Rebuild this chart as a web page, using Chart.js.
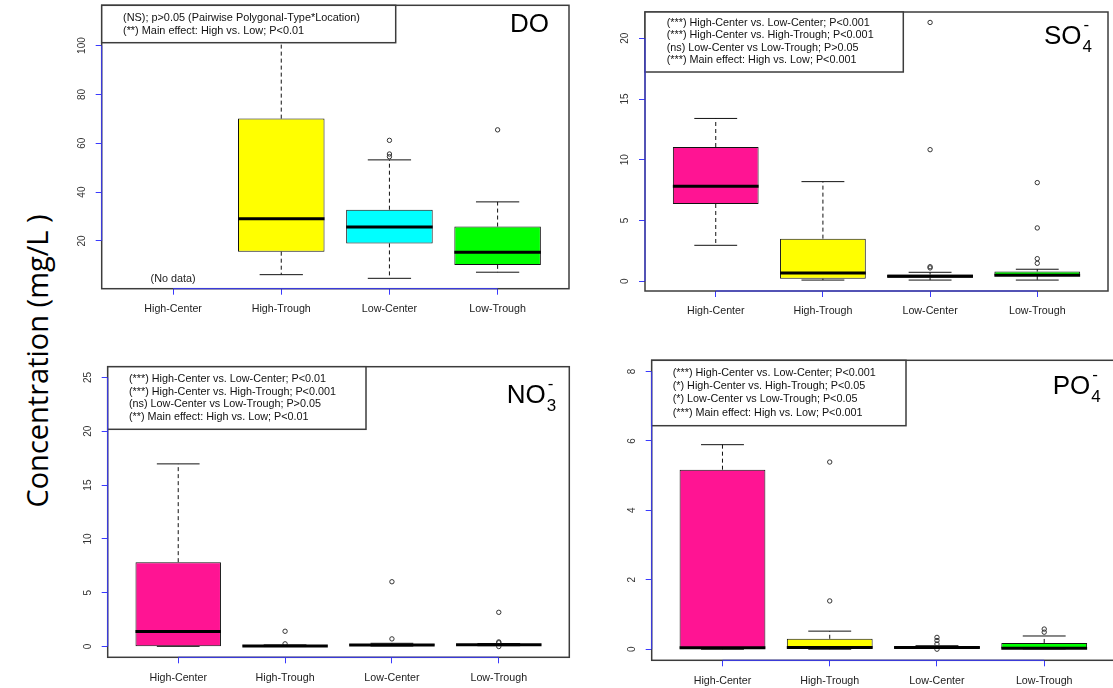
<!DOCTYPE html>
<html>
<head>
<meta charset="utf-8">
<script src="https://cdn.jsdelivr.net/npm/chart.js@4.4.1/dist/chart.umd.min.js"></script>
<style>
    html, body { margin: 0; padding: 0; background: #fff; }
    body { width: 1113px; height: 688px; position: relative; overflow: hidden; }
    canvas { position: absolute; }
    #ylabel {
        position: absolute;
        left: 36px;
        top: 361px;
        transform: translate(-50%, -50%) rotate(-90deg);
        font-family: "Open Sans", sans-serif;
        font-size: 29px;
        white-space: nowrap;
        color: #000;
    }
</style>
</head>
<body>
<div id="ylabel">Concentration (mg/L )</div>
<canvas id="doChart"></canvas>
<canvas id="so4Chart"></canvas>
<canvas id="no3Chart"></canvas>
<canvas id="po4Chart"></canvas>

<script>
const categories = ["High-Center", "High-Trough", "Low-Center", "Low-Trough"];
const boxColors = ["#FF1493", "#FFFF00", "#00FFFF", "#00FF00"];

// Dissolved oxygen (no High-Center samples)
const doLower = [null, 6.2, 4.7, 7.2];
const doQ1 = [null, 15.6, 19.0, 10.2];
const doMedian = [null, 29.1, 25.7, 15.4];
const doQ3 = [null, 70.1, 32.8, 25.9];
const doUpper = [null, 112.2, 53.2, 36.0];
const doOutliers = [[], [], [61.2, 55.6, 54.5], [65.5]];
const doTicks = [20, 40, 60, 80, 100];
const doNotes = [
    "(NS); p>0.05 (Pairwise Polygonal-Type*Location)",
    "(**) Main effect: High vs. Low; P<0.01"
];

// Sulfate
const so4Lower = [2.96, 0.1, 0.1, 0.1];
const so4Q1 = [6.36, 0.21, 0.3, 0.45];
const so4Median = [7.82, 0.68, 0.42, 0.5];
const so4Q3 = [11.05, 3.51, 0.55, 0.8];
const so4Upper = [13.4, 8.2, 0.74, 0.99];
const so4Outliers = [[], [], [21.3, 10.83, 1.2, 1.1], [8.12, 4.39, 1.86, 1.48]];
const so4Ticks = [0, 5, 10, 15, 20];
const so4Notes = [
    "(***) High-Center vs. Low-Center; P<0.001",
    "(***) High-Center vs. High-Trough; P<0.001",
    "(ns) Low-Center vs Low-Trough; P>0.05",
    "(***) Main effect: High vs. Low; P<0.001"
];

// Nitrate
const no3Lower = [0.02, 0.0, 0.05, 0.08];
const no3Q1 = [0.03, 0.02, 0.1, 0.12];
const no3Median = [1.39, 0.05, 0.15, 0.16];
const no3Q3 = [7.84, 0.1, 0.22, 0.2];
const no3Upper = [16.97, 0.15, 0.3, 0.28];
const no3Outliers = [[], [1.42, 0.25], [6.02, 0.71], [3.18, 0.43, 0.35, 0.0]];
const no3Ticks = [0, 5, 10, 15, 20, 25];
const no3Notes = [
    "(***) High-Center vs. Low-Center; P<0.01",
    "(***) High-Center vs. High-Trough; P<0.001",
    "(ns) Low-Center vs Low-Trough; P>0.05",
    "(**) Main effect: High vs. Low; P<0.01"
];

// Phosphate
const po4Lower = [0.0, 0.0, 0.02, 0.01];
const po4Q1 = [0.01, 0.01, 0.03, 0.02];
const po4Median = [0.04, 0.05, 0.05, 0.03];
const po4Q3 = [5.17, 0.3, 0.08, 0.18];
const po4Upper = [5.89, 0.52, 0.1, 0.38];
const po4Outliers = [[], [5.39, 1.39], [0.34, 0.25, 0.15, 0.0], [0.58, 0.49]];
const po4Ticks = [0, 2, 4, 6, 8];
const po4Notes = [
    "(***) High-Center vs. Low-Center; P<0.001",
    "(*) High-Center vs. High-Trough; P<0.05",
    "(*) Low-Center vs Low-Trough; P<0.05",
    "(***) Main effect: High vs. Low; P<0.001"
];

const FONT = '"Liberation Sans", Arial, sans-serif';
const AXIS_BLUE = "#3a3aff";

// draws whiskers, medians, frame, notes box, title and the R-style axis lines
const boxplotExtras = {
    id: "boxplotExtras",
    beforeDatasetsDraw(chart) {
        const p = chart.options.plugins.boxplotExtras;
        const ctx = chart.ctx;
        const y = chart.scales.y;
        const meta = chart.getDatasetMeta(0);
        ctx.save();
        ctx.strokeStyle = "#111";
        ctx.lineWidth = 1;
        meta.data.forEach((bar, j) => {
            const i = chart.data.datasets[0].data[j].x - 1;
            const cx = bar.x;
            const half = bar.width / 4;
            const lo = y.getPixelForValue(p.lower[i]);
            const q1 = y.getPixelForValue(p.q1[i]);
            const q3 = y.getPixelForValue(p.q3[i]);
            const hi = y.getPixelForValue(p.upper[i]);
            ctx.setLineDash([4, 3]);
            ctx.beginPath();
            ctx.moveTo(cx, q3); ctx.lineTo(cx, hi);
            ctx.moveTo(cx, q1); ctx.lineTo(cx, lo);
            ctx.stroke();
            ctx.setLineDash([]);
            ctx.beginPath();
            ctx.moveTo(cx - half, hi); ctx.lineTo(cx + half, hi);
            ctx.moveTo(cx - half, lo); ctx.lineTo(cx + half, lo);
            ctx.stroke();
        });
        ctx.restore();
    },
    afterDatasetsDraw(chart) {
        const p = chart.options.plugins.boxplotExtras;
        const ctx = chart.ctx;
        const y = chart.scales.y;
        const meta = chart.getDatasetMeta(0);
        ctx.save();
        ctx.strokeStyle = "#000";
        ctx.lineWidth = 3;
        meta.data.forEach((bar, j) => {
            const i = chart.data.datasets[0].data[j].x - 1;
            const m = y.getPixelForValue(p.median[i]);
            ctx.beginPath();
            ctx.moveTo(bar.x - bar.width / 2, m);
            ctx.lineTo(bar.x + bar.width / 2, m);
            ctx.stroke();
        });
        ctx.restore();
    },
    afterDraw(chart) {
        const p = chart.options.plugins.boxplotExtras;
        const ctx = chart.ctx;
        const a = chart.chartArea;
        const x = chart.scales.x;
        const y = chart.scales.y;
        ctx.save();

        // categories with no samples
        ctx.fillStyle = "#222";
        ctx.font = "10.8px " + FONT;
        ctx.textAlign = "center";
        ctx.textBaseline = "middle";
        p.q1.forEach((v, i) => {
            if (v === null) ctx.fillText("(No data)", x.getPixelForValue(i + 1), a.bottom - 10);
        });

        // plot frame
        ctx.strokeStyle = "#3c3c3c";
        ctx.lineWidth = 1.5;
        ctx.strokeRect(a.left, a.top, a.right - a.left, a.bottom - a.top);

        // notes box
        const n = p.notes;
        ctx.fillStyle = "#fff";
        ctx.fillRect(a.left, a.top, n.width, n.height);
        ctx.strokeRect(a.left, a.top, n.width, n.height);
        ctx.fillStyle = "#111";
        ctx.font = n.fontSize + "px " + FONT;
        ctx.textAlign = "left";
        n.lines.forEach((t, k) => {
            ctx.fillText(t, a.left + n.indent, a.top + n.first + k * n.step);
        });

        // panel title with optional sub/superscript
        const t = p.title;
        ctx.fillStyle = "#000";
        ctx.textBaseline = "alphabetic";
        ctx.font = "26px " + FONT;
        const tx = a.right + t.dx;
        const ty = a.top + t.dy;
        ctx.fillText(t.text, tx, ty);
        if (t.sub) {
            const w = ctx.measureText(t.text).width;
            ctx.font = "17px " + FONT;
            ctx.fillText(t.sub, tx + w + 1, ty + 8);
            ctx.fillText("-", tx + w + 2, ty - 14);
        }

        // blue axis lines spanning first to last tick
        ctx.strokeStyle = AXIS_BLUE;
        ctx.lineWidth = 1;
        const xt = x.ticks;
        ctx.beginPath();
        ctx.moveTo(x.getPixelForValue(xt[0].value), a.bottom);
        ctx.lineTo(x.getPixelForValue(xt[xt.length - 1].value), a.bottom);
        const yt = y.ticks;
        ctx.moveTo(a.left, y.getPixelForValue(yt[0].value));
        ctx.lineTo(a.left, y.getPixelForValue(yt[yt.length - 1].value));
        ctx.stroke();

        // rotated y tick labels
        ctx.fillStyle = "#333";
        ctx.font = "10px " + FONT;
        ctx.textAlign = "center";
        ctx.textBaseline = "middle";
        yt.forEach(tk => {
            ctx.save();
            ctx.translate(a.left - 19.5, y.getPixelForValue(tk.value));
            ctx.rotate(-Math.PI / 2);
            ctx.fillText(String(tk.value), 0, 0);
            ctx.restore();
        });
        ctx.restore();
    }
};

function makePanel(id, cfg) {
    const canvas = document.getElementById(id);
    canvas.width = cfg.box.w;
    canvas.height = cfg.box.h;
    canvas.style.left = cfg.box.left + "px";
    canvas.style.top = cfg.box.top + "px";

    const boxes = [];
    const colors = [];
    categories.forEach((c, i) => {
        if (cfg.q1[i] === null) return;
        boxes.push({ x: i + 1, y: [cfg.q1[i], cfg.q3[i]] });
        colors.push(boxColors[i]);
    });
    const points = [];
    cfg.outliers.forEach((list, i) => list.forEach(v => points.push({ x: i + 1, y: v })));

    const plot = cfg.plot;
    return new Chart(canvas, {
        type: "bar",
        data: {
            datasets: [
                {
                    type: "bar",
                    data: boxes,
                    backgroundColor: colors,
                    borderColor: "#111",
                    borderWidth: 1,
                    borderSkipped: false,
                    barPercentage: 0.8,
                    categoryPercentage: 1,
                    order: 2
                },
                {
                    type: "scatter",
                    data: points,
                    pointStyle: "circle",
                    pointRadius: 2.2,
                    pointBorderWidth: 1,
                    pointBorderColor: "#333",
                    pointBackgroundColor: "rgba(0,0,0,0)",
                    order: 1
                }
            ]
        },
        plugins: [boxplotExtras],
        options: {
            responsive: false,
            animation: false,
            events: [],
            layout: {
                padding: {
                    left: 0,
                    top: plot.top - cfg.box.top,
                    right: cfg.box.left + cfg.box.w - plot.right,
                    bottom: 0
                }
            },
            plugins: {
                legend: { display: false },
                tooltip: { enabled: false },
                boxplotExtras: {
                    lower: cfg.lower, q1: cfg.q1, median: cfg.median, q3: cfg.q3, upper: cfg.upper,
                    notes: cfg.notes, title: cfg.title
                }
            },
            scales: {
                x: {
                    type: "linear",
                    min: 0.34,
                    max: 4.66,
                    offset: false,
                    afterBuildTicks: s => { s.ticks = categories.map((c, i) => ({ value: i + 1 })); },
                    afterFit: s => { s.height = cfg.box.top + cfg.box.h - plot.bottom; },
                    ticks: {
                        autoSkip: false,
                        maxRotation: 0,
                        padding: 8,
                        color: "#222",
                        font: { family: FONT, size: 10.7 },
                        callback: v => categories[Math.round(v) - 1]
                    },
                    grid: { offset: false, drawOnChartArea: false, tickLength: 6, tickColor: AXIS_BLUE, color: AXIS_BLUE },
                    border: { display: false }
                },
                y: {
                    min: cfg.yMin,
                    max: cfg.yMax,
                    afterBuildTicks: s => { s.ticks = cfg.ticks.map(v => ({ value: v })); },
                    afterFit: s => { s.width = plot.left - cfg.box.left; },
                    ticks: { display: false },
                    grid: { drawOnChartArea: false, tickLength: 6, tickColor: AXIS_BLUE, color: AXIS_BLUE },
                    border: { display: false }
                }
            }
        }
    });
}

makePanel("doChart", {
    box: { left: 55, top: 0, w: 535, h: 322 },
    plot: { left: 101.7, top: 5.3, right: 569, bottom: 288.7 },
    yMin: 0.45, yMax: 116.5, ticks: doTicks,
    lower: doLower, q1: doQ1, median: doMedian, q3: doQ3, upper: doUpper, outliers: doOutliers,
    notes: { lines: doNotes, width: 294, height: 37.4, indent: 21.3, first: 12.7, step: 12.7, fontSize: 10.9 },
    title: { text: "DO", dx: -59, dy: 26.4 }
});

makePanel("so4Chart", {
    box: { left: 600, top: 0, w: 513, h: 322 },
    plot: { left: 645, top: 12, right: 1109, bottom: 291 },
    yMin: -0.8, yMax: 22.16, ticks: so4Ticks,
    lower: so4Lower, q1: so4Q1, median: so4Median, q3: so4Q3, upper: so4Upper, outliers: so4Outliers,
    notes: { lines: so4Notes, width: 258.3, height: 60, indent: 21.7, first: 11.3, step: 12.2, fontSize: 10.8 },
    title: { text: "SO", sub: "4", dx: -64, dy: 32 }
});

makePanel("no3Chart", {
    box: { left: 55, top: 355, w: 535, h: 333 },
    plot: { left: 107.7, top: 366.7, right: 569.3, bottom: 657.3 },
    yMin: -1, yMax: 26, ticks: no3Ticks,
    lower: no3Lower, q1: no3Q1, median: no3Median, q3: no3Q3, upper: no3Upper, outliers: no3Outliers,
    notes: { lines: no3Notes, width: 258.3, height: 62.6, indent: 21.3, first: 12.3, step: 12.7, fontSize: 10.8 },
    title: { text: "NO", sub: "3", dx: -62.6, dy: 36.6 }
});

makePanel("po4Chart", {
    box: { left: 600, top: 355, w: 520, h: 333 },
    plot: { left: 651.7, top: 360.3, right: 1115, bottom: 660.3 },
    yMin: -0.32, yMax: 8.32, ticks: po4Ticks,
    lower: po4Lower, q1: po4Q1, median: po4Median, q3: po4Q3, upper: po4Upper, outliers: po4Outliers,
    notes: { lines: po4Notes, width: 254.3, height: 65.4, indent: 21, first: 13, step: 13.1, fontSize: 10.8 },
    title: { text: "PO", sub: "4", dx: -62.3, dy: 34 }
});
</script>
</body>
</html>
